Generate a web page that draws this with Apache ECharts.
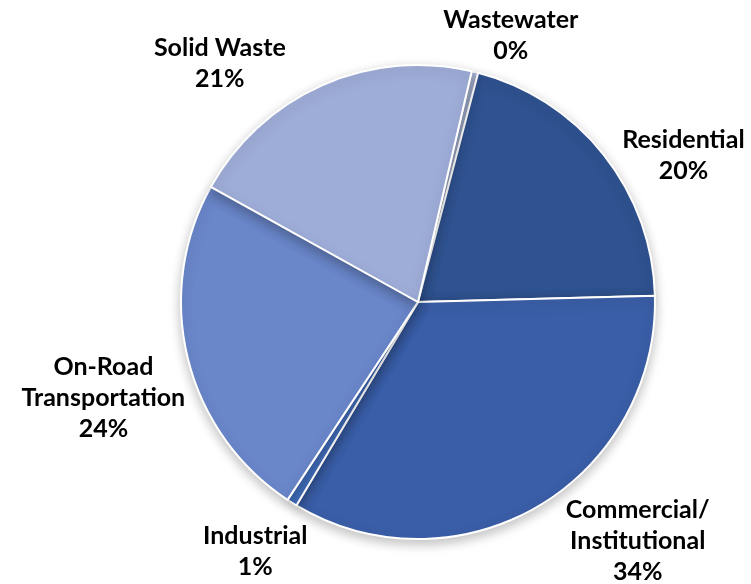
<!DOCTYPE html>
<html><head><meta charset="utf-8">
<script src="https://cdn.jsdelivr.net/npm/echarts@6/dist/echarts.min.js"></script>
<style>html,body{margin:0;padding:0;background:#fff}#c{width:751px;height:584px}</style>
</head><body><div id="c"></div>
<script>
const categories = ['Wastewater', 'Residential', 'Commercial/\nInstitutional', 'Industrial', 'On-Road\nTransportation', 'Solid Waste'];
const values = [0.45, 20.49, 34.0, 0.7, 23.8, 20.56];
const colors = ['#B4C0E4', '#2F5290', '#3A5EA7', '#4472C4', '#6A87CA', '#9EADD8'];
const labelShift = [[26, -17], [59, 13], [85, 17], [-21, 32], [-60, 35], [-89, -4]];

const chart = echarts.init(document.getElementById('c'));
chart.setOption({
  animation: false,
  series: [{
    type: 'pie',
    center: [418, 302],
    radius: [0, 237],
    startAngle: 76.9,
    clockwise: true,
    avoidLabelOverlap: false,
    data: categories.map((n, i) => ({ name: n, value: values[i], itemStyle: { color: colors[i] } })),
    itemStyle: { borderColor: '#fff', borderWidth: 2, shadowBlur: 12, shadowColor: 'rgba(0,0,0,0.25)', shadowOffsetY: 4 },
    label: {
      show: true,
      position: 'outside',
      formatter: p => p.name + '\n' + Math.round(p.percent) + '%',
      fontFamily: 'Lato',
      fontWeight: 'bold',
      fontSize: 25,
      lineHeight: 31,
      color: '#000'
    },
    labelLine: { show: false, length: 20, length2: 0 },
    labelLayout: p => ({
      align: 'center',
      verticalAlign: 'middle',
      dx: labelShift[p.dataIndex][0],
      dy: labelShift[p.dataIndex][1]
    })
  }]
});
</script></body></html>
